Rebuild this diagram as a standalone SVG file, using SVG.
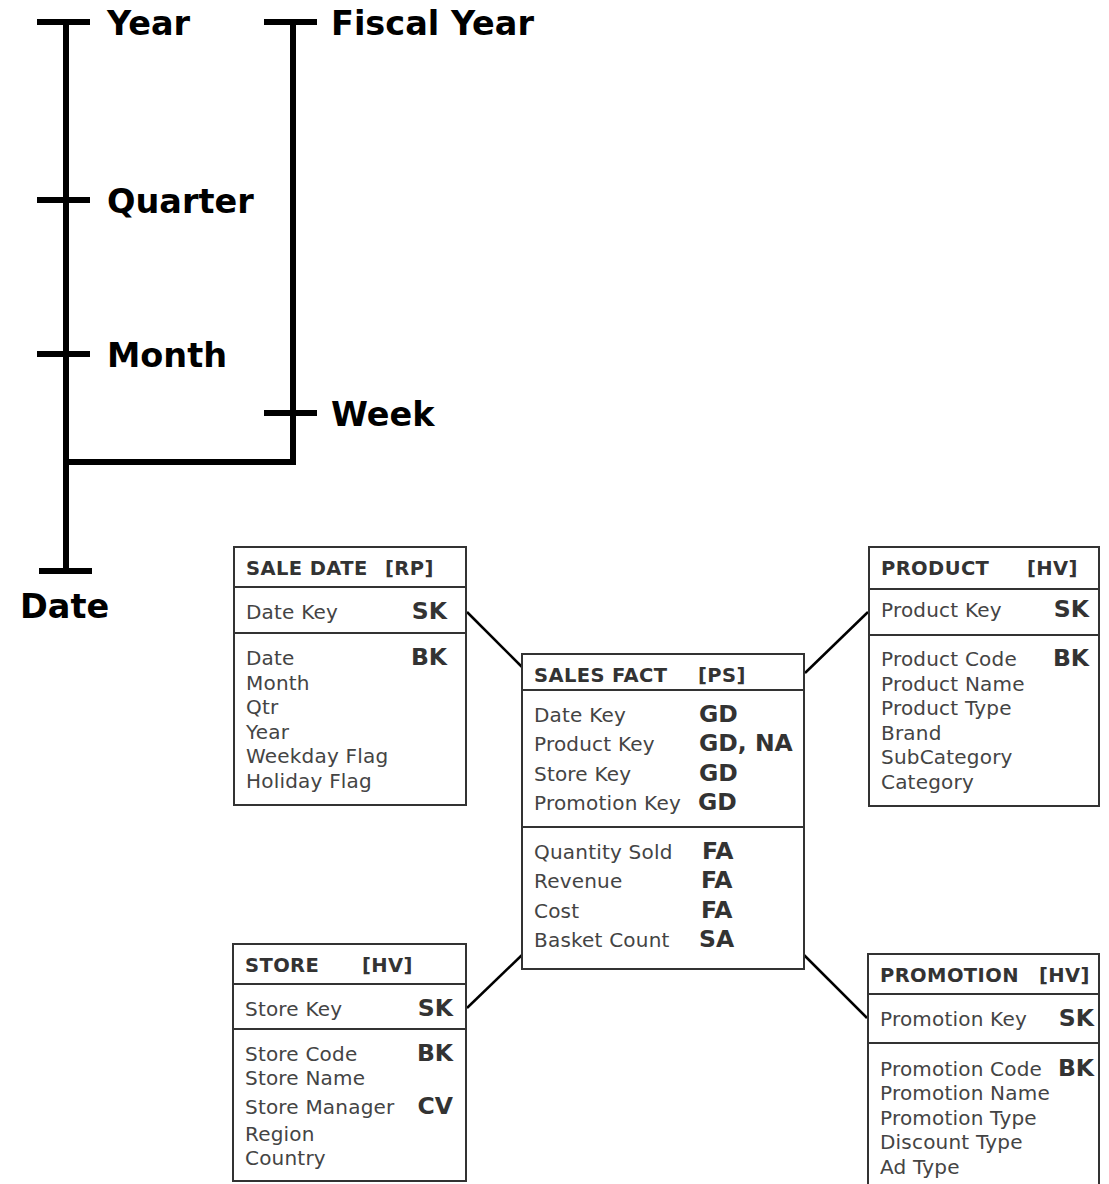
<svg xmlns="http://www.w3.org/2000/svg" width="1109" height="1184" viewBox="0 0 1109 1184">
  <style>
    .hier { stroke: #000; stroke-width: 6; fill: none; }
    .lvl { font-family: "DejaVu Sans", Verdana, sans-serif; font-weight: bold; font-size: 33.5px; fill: #000; }
    .box { fill: #fff; stroke: #333; stroke-width: 2; }
    .sep { stroke: #333; stroke-width: 2; }
    .hdr { font-family: "DejaVu Sans", Verdana, sans-serif; font-weight: bold; font-size: 19.5px; letter-spacing: 0.4px; fill: #333; }
    .att { font-family: "DejaVu Sans", Verdana, sans-serif; font-size: 20px; letter-spacing: 0.2px; fill: #444; }
    .tag { font-family: "DejaVu Sans", Verdana, sans-serif; font-weight: bold; font-size: 23.5px; fill: #333; }
    .end { text-anchor: end; }
    .link { stroke: #000; stroke-width: 2.5; fill: none; }
  </style>

  <!-- date hierarchy -->
  <g id="date-hierarchy">
    <path class="hier" d="M66 22 V571 M37 22 H90 M37 200 H90 M37 354 H90 M39 571 H92"/>
    <path class="hier" d="M293 22 V462 H66 M264 22 H317 M264 413 H317"/>
    <text class="lvl" x="107" y="35">Year</text>
    <text class="lvl" x="107" y="213">Quarter</text>
    <text class="lvl" x="107" y="367">Month</text>
    <text class="lvl" x="20" y="618">Date</text>
    <text class="lvl" x="331" y="35">Fiscal Year</text>
    <text class="lvl" x="331" y="426">Week</text>
  </g>

  <!-- relationships between fact and dimensions -->
  <g id="connectors">
    <line class="link" x1="467" y1="612" x2="522" y2="667"/>
    <line class="link" x1="868" y1="612" x2="805" y2="673"/>
    <line class="link" x1="467" y1="1008" x2="522" y2="955"/>
    <line class="link" x1="804" y1="955" x2="867" y2="1018"/>
  </g>

  <!-- SALE DATE dimension -->
  <g id="sale-date">
    <rect class="box" x="234" y="547" width="232" height="258"/>
    <line class="sep" x1="234" y1="587" x2="466" y2="587"/>
    <line class="sep" x1="234" y1="633" x2="466" y2="633"/>
    <text class="hdr" x="246" y="575">SALE DATE</text>
    <text class="hdr" x="385" y="575">[RP]</text>
    <text class="att" x="246" y="619">Date Key</text>
    <text class="tag end" x="447" y="619">SK</text>
    <text class="att" x="246" y="665">Date</text>
    <text class="tag end" x="447" y="665">BK</text>
    <text class="att" x="246" y="690">Month</text>
    <text class="att" x="246" y="714">Qtr</text>
    <text class="att" x="246" y="739">Year</text>
    <text class="att" x="246" y="763">Weekday Flag</text>
    <text class="att" x="246" y="788">Holiday Flag</text>
  </g>

  <!-- PRODUCT dimension -->
  <g id="product">
    <rect class="box" x="869" y="547" width="230" height="259"/>
    <line class="sep" x1="869" y1="589" x2="1099" y2="589"/>
    <line class="sep" x1="869" y1="635" x2="1099" y2="635"/>
    <text class="hdr" x="881" y="575">PRODUCT</text>
    <text class="hdr" x="1027" y="575">[HV]</text>
    <text class="att" x="881" y="617">Product Key</text>
    <text class="tag end" x="1089" y="617">SK</text>
    <text class="att" x="881" y="666">Product Code</text>
    <text class="tag end" x="1089" y="666">BK</text>
    <text class="att" x="881" y="691">Product Name</text>
    <text class="att" x="881" y="715">Product Type</text>
    <text class="att" x="881" y="740">Brand</text>
    <text class="att" x="881" y="764">SubCategory</text>
    <text class="att" x="881" y="789">Category</text>
  </g>

  <!-- SALES FACT -->
  <g id="sales-fact">
    <rect class="box" x="522" y="654" width="282" height="315"/>
    <line class="sep" x1="522" y1="690" x2="804" y2="690"/>
    <line class="sep" x1="522" y1="827" x2="804" y2="827"/>
    <text class="hdr" x="534" y="682">SALES FACT</text>
    <text class="hdr" x="698" y="682">[PS]</text>
    <text class="att" x="534" y="722">Date Key</text>
    <text class="tag" x="699" y="722">GD</text>
    <text class="att" x="534" y="751">Product Key</text>
    <text class="tag" x="699" y="751">GD, NA</text>
    <text class="att" x="534" y="781">Store Key</text>
    <text class="tag" x="699" y="781">GD</text>
    <text class="att" x="534" y="810">Promotion Key</text>
    <text class="tag" x="698" y="810">GD</text>
    <text class="att" x="534" y="859">Quantity Sold</text>
    <text class="tag" x="702" y="859">FA</text>
    <text class="att" x="534" y="888">Revenue</text>
    <text class="tag" x="701" y="888">FA</text>
    <text class="att" x="534" y="918">Cost</text>
    <text class="tag" x="701" y="918">FA</text>
    <text class="att" x="534" y="947">Basket Count</text>
    <text class="tag" x="699" y="947">SA</text>
  </g>

  <!-- STORE dimension -->
  <g id="store">
    <rect class="box" x="233" y="944" width="233" height="237"/>
    <line class="sep" x1="233" y1="984" x2="466" y2="984"/>
    <line class="sep" x1="233" y1="1029" x2="466" y2="1029"/>
    <text class="hdr" x="245" y="972">STORE</text>
    <text class="hdr" x="362" y="972">[HV]</text>
    <text class="att" x="245" y="1016">Store Key</text>
    <text class="tag end" x="453" y="1016">SK</text>
    <text class="att" x="245" y="1061">Store Code</text>
    <text class="tag end" x="453" y="1061">BK</text>
    <text class="att" x="245" y="1085">Store Name</text>
    <text class="att" x="245" y="1114">Store Manager</text>
    <text class="tag end" x="453" y="1114">CV</text>
    <text class="att" x="245" y="1141">Region</text>
    <text class="att" x="245" y="1165">Country</text>
  </g>

  <!-- PROMOTION dimension -->
  <g id="promotion">
    <rect class="box" x="868" y="954" width="231" height="240"/>
    <line class="sep" x1="868" y1="994" x2="1099" y2="994"/>
    <line class="sep" x1="868" y1="1043" x2="1099" y2="1043"/>
    <text class="hdr" x="880" y="982">PROMOTION</text>
    <text class="hdr" x="1039" y="982">[HV]</text>
    <text class="att" x="880" y="1026">Promotion Key</text>
    <text class="tag end" x="1094" y="1026">SK</text>
    <text class="att" x="880" y="1076">Promotion Code</text>
    <text class="tag end" x="1094" y="1076">BK</text>
    <text class="att" x="880" y="1100">Promotion Name</text>
    <text class="att" x="880" y="1125">Promotion Type</text>
    <text class="att" x="880" y="1149">Discount Type</text>
    <text class="att" x="880" y="1174">Ad Type</text>
  </g>
</svg>
